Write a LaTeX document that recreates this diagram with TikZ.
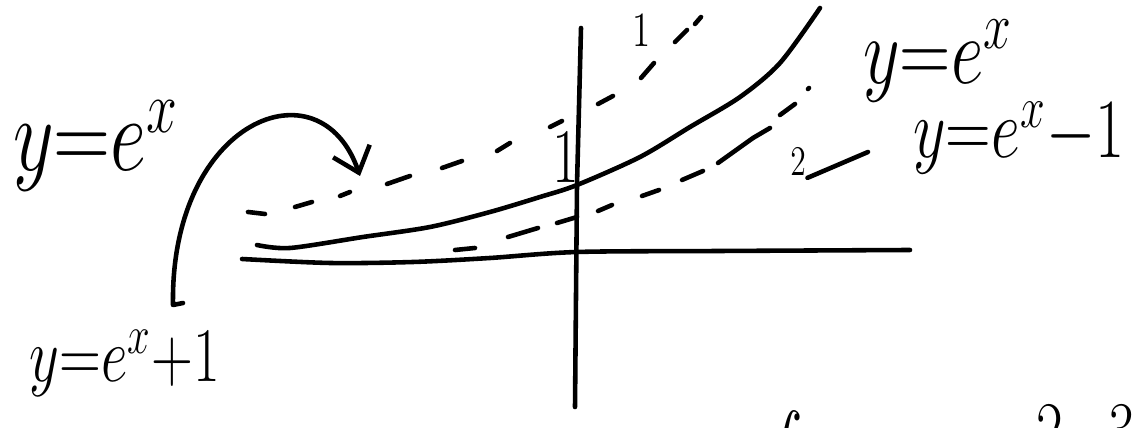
\documentclass[tikz,border=0pt]{standalone}
\usepackage{fix-cm}
\usepackage{amsmath}
\usetikzlibrary{arrows.meta}

\begin{document}
\begin{tikzpicture}[x=0.01cm,y=-0.01cm,line width=1.3pt,line cap=round,line join=round,
    hand/.style={inner sep=0pt,xscale=0.75}]
    \useasboundingbox (0,0) rectangle (1136,428);
    \draw plot[smooth] coordinates {(242,259) (330,263) (413,262) (490,258) (577,252) (720,251) (910,250)};
    \draw (581,28) -- (577,185) -- (575,407);
    \draw plot[smooth] coordinates {(257,245) (290,248) (363,237) (430,227) (490,212) (540,197) (577,185) (640,157) (690,127) (740,97) (780,63) (820,8)};
    \draw (248,212) -- (265,214) (295,207) -- (312,202) (340,196) -- (350,192) (387,184) -- (410,176)
          (442,168) -- (462,161) (497,151) -- (510,143) (550,127) -- (562,121) (598,104) -- (613,96)
          (641,78) -- (654,63) (675,42) -- (687,30) (695,24) -- (701,17);
    \draw (455,250) -- (475,248) (508,237) -- (538,228) (557,223) -- (577,217) (598,211) -- (612,205)
          (642,196) -- (659,190) (682,180) -- (703,171) (718,163) -- (753,138) -- (770,128)
          (780,115) -- (795,104) (808,89) -- (809,88);
    \node[hand,font=\fontsize{30}{34}\selectfont] (lblA) at (96,146) {$y{=}e^{x}$};
    \node[hand,font=\fontsize{22}{26}\selectfont] (lblB) at (125,363) {$y{=}e^{x}{+}1$};
    \node[hand,font=\fontsize{27}{31}\selectfont] (lblC) at (938,61) {$y{=}e^{x}$};
    \node[hand,font=\fontsize{24}{28}\selectfont] (lblD) at (1019,138) {$y{=}e^{x}{-}1$};
    \node[hand,font=\fontsize{12}{14}\selectfont] (two) at (798,162) {$2$};
    \node[hand,font=\fontsize{22}{26}\selectfont] (oneA) at (566,158) {$1$};
    \node[hand,font=\fontsize{14}{16}\selectfont] (oneB) at (642,31) {$1$};
    \node[hand,anchor=north,font=\fontsize{22}{26}\selectfont] (intg) at (776,408) {$\displaystyle\int$};
    \node[hand,anchor=north west,font=\fontsize{22}{26}\selectfont] (rest) at (1035,403) {$2{-}3x$};
    \coordinate (twoend) at (868,152);
    \draw (two.south east) -- (twoend);
    \coordinate (arrfoot) at (183,303);
    \coordinate (arrstart) at (173,305);
    \coordinate (arrtip) at (360,176);
    \draw[-{Straight Barb[length=6.5pt,width=11pt]}] (arrfoot) -- (arrstart) .. controls (170,120) and (320,60) .. (arrtip);
\end{tikzpicture}
\end{document}
